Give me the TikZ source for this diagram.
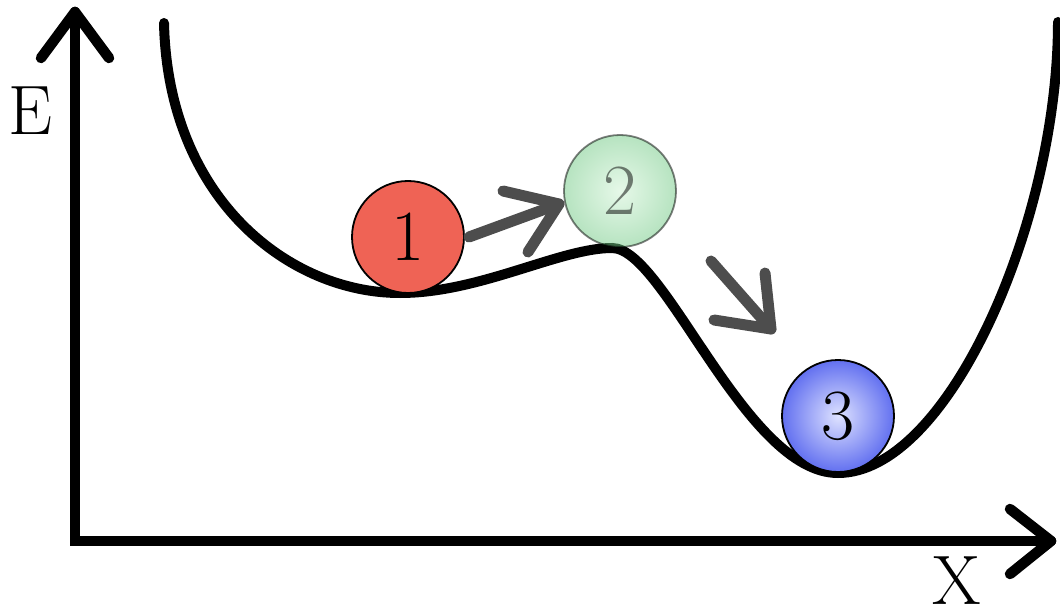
\documentclass[tikz,border=0pt]{standalone}
\usepackage{fontspec}
\definecolor{ball1red}{RGB}{239,99,85}
\definecolor{arrowgray}{RGB}{77,77,77}
\definecolor{ball2in}{RGB}{205,242,210}
\definecolor{ball2out}{RGB}{110,200,130}
\definecolor{ball3in}{RGB}{222,226,255}
\definecolor{ball3out}{RGB}{98,112,240}
\begin{document}
\begin{tikzpicture}[x=1pt,y=-1pt,
  ax/.style={line width=10.5pt, line cap=round, line join=round},
  curvestyle/.style={line width=10pt, line cap=round},
  ball/.style={circle, draw=black, line width=1.8pt, minimum size=112pt, inner sep=0pt, font=\fontsize{72}{86}\selectfont},
  mover/.style={draw=arrowgray, line width=11pt, line cap=round, line join=round},
  lbl/.style={font=\fontsize{70}{84}\selectfont, inner sep=0pt}]
\useasboundingbox (0,0) rectangle (1060,612);
% axes
\coordinate (yTop) at (75,12);
\coordinate (orig) at (75,541);
\coordinate (xEnd) at (1051,541);
\coordinate (yArmL) at (41,58);
\coordinate (yArmR) at (109,58);
\coordinate (xArmU) at (1010,509);
\coordinate (xArmD) at (1010,574);
\draw[ax, line join=miter] (yTop) -- (orig) -- (xEnd);
\draw[ax] (yArmL) -- (yTop) -- (yArmR);
\draw[ax] (xArmU) -- (xEnd) -- (xArmD);
\node[lbl] (El) at (30,111) {E};
\node[lbl] (Xl) at (957,581) {X};
% energy curve
\draw[curvestyle] (164,23) .. controls (168,200) and (290,293) .. (400,293)
  .. controls (480,293) and (560,248) .. (612,248)
  .. controls (665,248) and (745,473) .. (838,473)
  .. controls (948,473) and (1058,222) .. (1058,22);
% balls
\node[ball, fill=ball1red] (b1) at (408,237) {1};
\node[ball, shade, inner color=ball2in, outer color=ball2out, opacity=0.5] (b2) at (620,191) {2};
\node[ball, shade, inner color=ball3in, outer color=ball3out] (b3) at (838,416) {3};
% motion arrows
\coordinate (m1s) at (469,237);
\coordinate (m1t) at (559,204);
\coordinate (m1a) at (503,191);
\coordinate (m1b) at (528,252);
\draw[mover] (m1s) -- (m1t);
\draw[mover] (m1a) -- (m1t) -- (m1b);
\coordinate (m2s) at (711,261);
\coordinate (m2t) at (771,329);
\coordinate (m2a) at (765,273);
\coordinate (m2b) at (714,320);
\draw[mover] (m2s) -- (m2t);
\draw[mover] (m2a) -- (m2t) -- (m2b);
\end{tikzpicture}
\end{document}
